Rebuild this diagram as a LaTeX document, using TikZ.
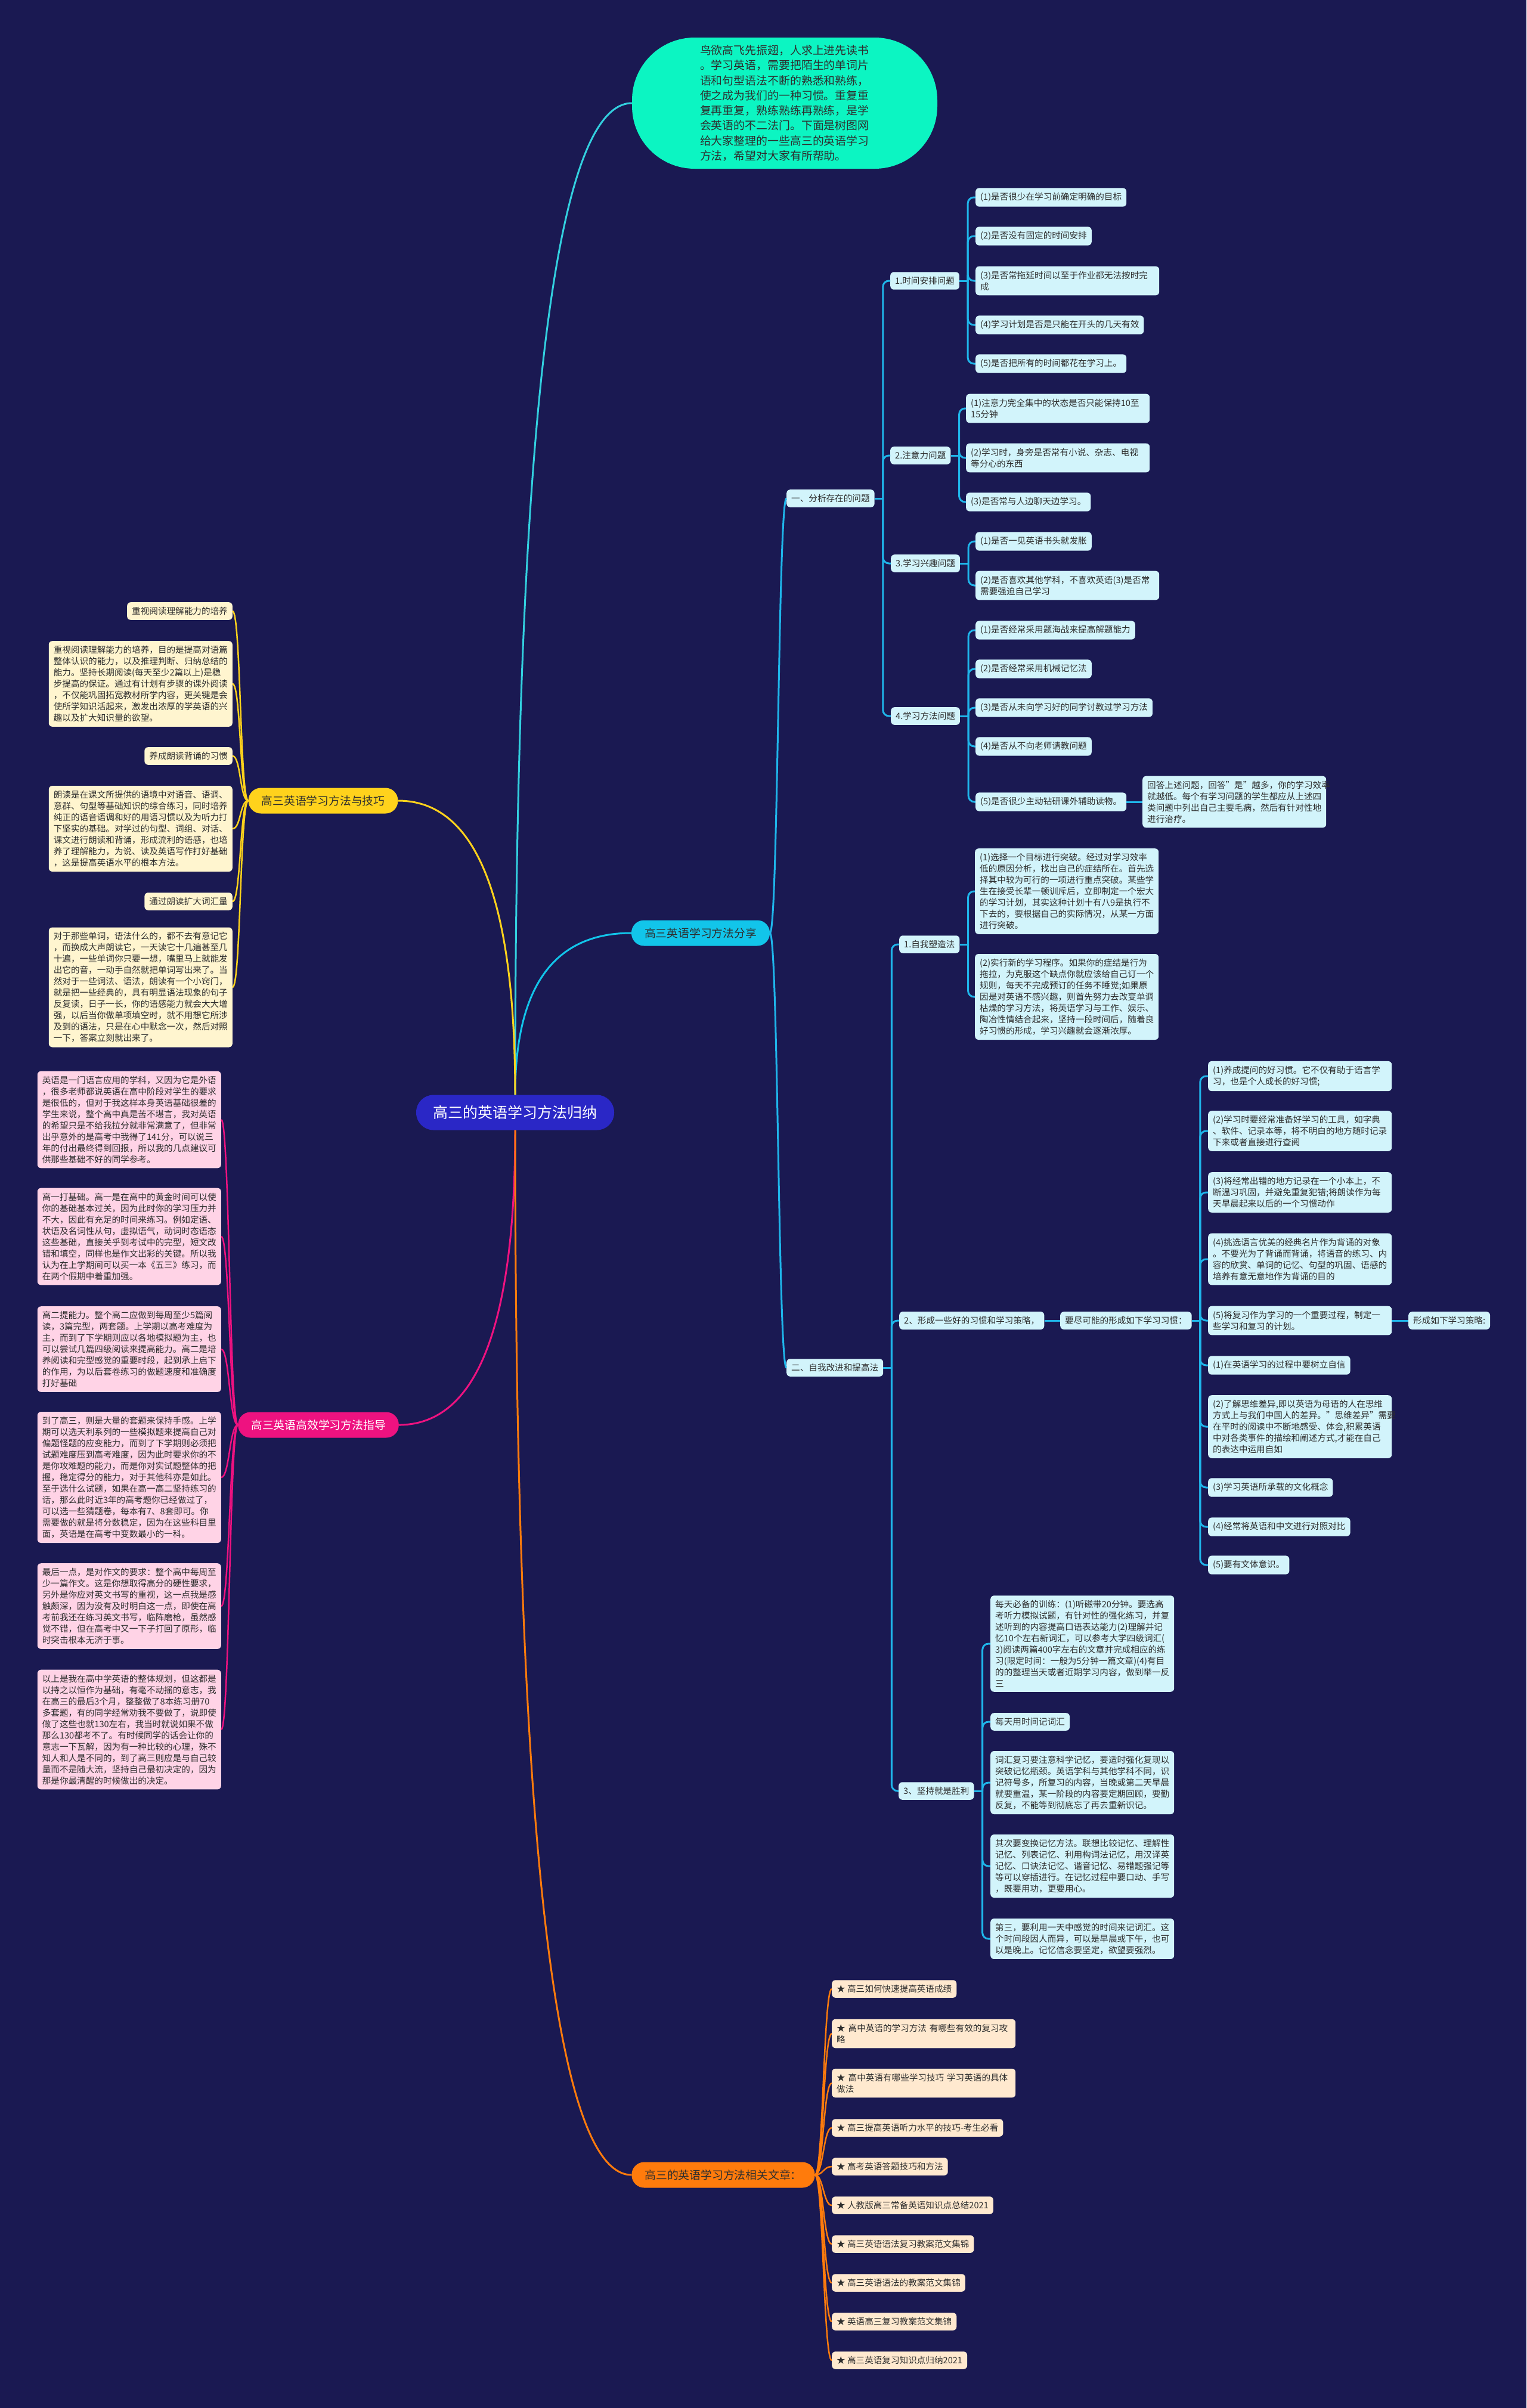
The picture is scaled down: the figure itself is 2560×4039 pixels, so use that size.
\documentclass[tikz,border=0pt]{standalone}
\usepackage{fontspec}
\setmainfont{Noto Sans CJK SC}
\usetikzlibrary{calc}
\definecolor{bgc}{HTML}{1A1952}
\definecolor{rootc}{HTML}{2A27C6}
\definecolor{introc}{HTML}{0CF5C2}
\definecolor{sharec}{HTML}{12C5EA}
\definecolor{skillc}{HTML}{FFD21C}
\definecolor{effc}{HTML}{EE1280}
\definecolor{artc}{HTML}{FF7B0C}
\definecolor{cyanbg}{HTML}{D2F4FB}
\definecolor{yelbg}{HTML}{FFF5CF}
\definecolor{pinkbg}{HTML}{FFD3E6}
\definecolor{orgbg}{HTML}{FFE9CF}
\definecolor{txt}{HTML}{2E2E2E}
\definecolor{cyline}{HTML}{1FB5EA}
\definecolor{introline}{HTML}{33D0DF}
\newcommand{\smalltxt}{\fontsize{14.6pt}{19pt}\selectfont}
\newcommand{\bigtxt}{\fontsize{18.8pt}{23pt}\selectfont}
\newcommand{\introtxt}{\fontsize{18.9pt}{25.3pt}\selectfont}
\newcommand{\roottxt}{\fontsize{25pt}{30pt}\selectfont}
\newcommand{\rootlink}[3]{\draw[#1] (#2) .. controls ($(#2)!0.667!(#2 |- #3)$) and ($(#3)!0.667!(#2 |- #3)$) .. (#3);}
\newcommand{\elb}[3]{\draw[#1] (#2.east) -- ++(14,0) coordinate (tmpj); \draw[#1, rounded corners=10pt] (tmpj) |- (#3.west);}
\newcommand{\sright}[3]{\draw[#1] (#2.east) .. controls +(14,0) and +(-14,0) .. (#3.west);}
\newcommand{\sleft}[3]{\draw[#1] (#2.west) .. controls +(-14,0) and +(14,0) .. (#3.east);}
\begin{document}
\begin{tikzpicture}[x=1pt,y=-1pt,
 box/.style={rounded corners=6pt, inner xsep=8pt, inner ysep=8pt, text=txt, font=\smalltxt, align=left},
 cyn/.style={box, fill=cyanbg},
 cynw/.style={cyn, text width=292pt},
 yel/.style={box, fill=yelbg},
 yelw/.style={yel, text width=292pt},
 pnk/.style={box, fill=pinkbg},
 pnkw/.style={pnk, text width=292pt},
 org/.style={box, fill=orgbg},
 orgw/.style={org, text width=292pt},
 mainn/.style={rounded corners=21pt, minimum height=43pt, inner xsep=22pt, inner ysep=4pt, font=\bigtxt, text=txt},
 cline/.style={draw=cyline, line width=3pt},
 yline/.style={draw=skillc, line width=2.5pt},
 pline/.style={draw=effc, line width=2.5pt},
 oline/.style={draw=artc, line width=2.5pt},
 mline/.style={line width=3pt}
]
\useasboundingbox (0,0) rectangle (2560,4039);
\fill[bgc] (0,0) rectangle (2560,4039);

% root and main branches
\node[fill=rootc, rounded corners=29pt, minimum width=332pt, minimum height=59pt, font=\roottxt, text=white] (root) at (864,1866) {高三的英语学习方法归纳};
\node[fill=introc, rounded corners=105pt, minimum width=512pt, minimum height=220pt, text width=284pt, align=left, font=\introtxt, text=txt] (intro) at (1316,173) {鸟欲高飞先振翅，人求上进先读书\\。学习英语，需要把陌生的单词片\\语和句型语法不断的熟悉和熟练，\\使之成为我们的一种习惯。重复重\\复再重复，熟练熟练再熟练，是学\\会英语的不二法门。下面是树图网\\给大家整理的一些高三的英语学习\\方法，希望对大家有所帮助。};
\node[mainn, fill=sharec] (share) at (1175,1565) {高三英语学习方法分享};
\node[mainn, fill=skillc] (skill) at (542,1343) {高三英语学习方法与技巧};
\node[mainn, fill=effc, text=white] (eff) at (534,2390) {高三英语高效学习方法指导};
\node[mainn, fill=artc] (art) at (1213,3648) {高三的英语学习方法相关文章：};

\rootlink{mline, draw=introline}{root.north}{intro.west}
\rootlink{mline, draw=sharec}{root.north}{share.west}
\rootlink{mline, draw=skillc}{root.north}{skill.east}
\rootlink{mline, draw=effc}{root.south}{eff.east}
\rootlink{mline, draw=artc}{root.south}{art.west}

% ---- share branch: part one
\node[cyn, anchor=west] (a) at (1319,836) {一、分析存在的问题};
\node[cyn, anchor=west] (a1) at (1493,471) {1.时间安排问题};
\node[cyn, anchor=west] (a11) at (1636,331) {(1)是否很少在学习前确定明确的目标};
\node[cyn, anchor=west] (a12) at (1636,396) {(2)是否没有固定的时间安排};
\node[cynw, anchor=west] (a13) at (1636,471) {(3)是否常拖延时间以至于作业都无法按时完\\成};
\node[cyn, anchor=west] (a14) at (1636,545) {(4)学习计划是否是只能在开头的几天有效};
\node[cyn, anchor=west] (a15) at (1636,610) {(5)是否把所有的时间都花在学习上。};
\node[cyn, anchor=west] (a2) at (1493,764) {2.注意力问题};
\node[cynw, anchor=west] (a21) at (1620,685) {(1)注意力完全集中的状态是否只能保持10至\\15分钟};
\node[cynw, anchor=west] (a22) at (1620,768) {(2)学习时，身旁是否常有小说、杂志、电视\\等分心的东西};
\node[cyn, anchor=west] (a23) at (1620,842) {(3)是否常与人边聊天边学习。};
\node[cyn, anchor=west] (a3) at (1494,945) {3.学习兴趣问题};
\node[cyn, anchor=west] (a31) at (1636,908) {(1)是否一见英语书头就发胀};
\node[cynw, anchor=west] (a32) at (1636,982) {(2)是否喜欢其他学科，不喜欢英语(3)是否常\\需要强迫自己学习};
\node[cyn, anchor=west] (a4) at (1494,1201) {4.学习方法问题};
\node[cyn, anchor=west] (a41) at (1636,1057) {(1)是否经常采用题海战来提高解题能力};
\node[cyn, anchor=west] (a42) at (1636,1122) {(2)是否经常采用机械记忆法};
\node[cyn, anchor=west] (a43) at (1636,1187) {(3)是否从未向学习好的同学讨教过学习方法};
\node[cyn, anchor=west] (a44) at (1636,1252) {(4)是否从不向老师请教问题};
\node[cyn, anchor=west] (a45) at (1636,1345) {(5)是否很少主动钻研课外辅助读物。};
\node[cynw, anchor=west] (a451) at (1916,1345) {回答上述问题，回答"是"越多，你的学习效率\\就越低。每个有学习问题的学生都应从上述四\\类问题中列出自己主要毛病，然后有针对性地\\进行治疗。};

% ---- share branch: part two
\node[cyn, anchor=west] (b) at (1319,2294) {二、自我改进和提高法};
\node[cyn, anchor=west] (b1) at (1508,1584) {1.自我塑造法};
\node[cynw, anchor=west] (b11) at (1635,1495) {(1)选择一个目标进行突破。经过对学习效率\\低的原因分析，找出自己的症结所在。首先选\\择其中较为可行的一项进行重点突破。某些学\\生在接受长辈一顿训斥后，立即制定一个宏大\\的学习计划，其实这种计划十有八9是执行不\\下去的，要根据自己的实际情况，从某一方面\\进行突破。};
\node[cynw, anchor=west] (b12) at (1635,1672) {(2)实行新的学习程序。如果你的症结是行为\\拖拉，为克服这个缺点你就应该给自己订一个\\规则，每天不完成预订的任务不睡觉;如果原\\因是对英语不感兴趣，则首先努力去改变单调\\枯燥的学习方法，将英语学习与工作、娱乐、\\陶冶性情结合起来，坚持一段时间后，随着良\\好习惯的形成，学习兴趣就会逐渐浓厚。};
\node[cyn, anchor=west] (b2) at (1508,2215) {2、形成一些好的习惯和学习策略，};
\node[cyn, anchor=west] (b21) at (1778,2215) {要尽可能的形成如下学习习惯：};
\node[cynw, anchor=west] (b2a) at (2026,1805) {(1)养成提问的好习惯。它不仅有助于语言学\\习，也是个人成长的好习惯;};
\node[cynw, anchor=west] (b2b) at (2026,1897) {(2)学习时要经常准备好学习的工具，如字典\\、软件、记录本等，将不明白的地方随时记录\\下来或者直接进行查阅};
\node[cynw, anchor=west] (b2c) at (2026,2000) {(3)将经常出错的地方记录在一个小本上，不\\断温习巩固，并避免重复犯错;将朗读作为每\\天早晨起来以后的一个习惯动作};
\node[cynw, anchor=west] (b2d) at (2026,2112) {(4)挑选语言优美的经典名片作为背诵的对象\\。不要光为了背诵而背诵，将语音的练习、内\\容的欣赏、单词的记忆、句型的巩固、语感的\\培养有意无意地作为背诵的目的};
\node[cynw, anchor=west] (b2e) at (2026,2215) {(5)将复习作为学习的一个重要过程，制定一\\些学习和复习的计划。};
\node[cyn, anchor=west] (b2e1) at (2362,2215) {形成如下学习策略:};
\node[cyn, anchor=west] (b2f) at (2026,2290) {(1)在英语学习的过程中要树立自信};
\node[cynw, anchor=west] (b2g) at (2026,2393) {(2)了解思维差异,即以英语为母语的人在思维\\方式上与我们中国人的差异。"思维差异"需要\\在平时的阅读中不断地感受、体会,积累英语\\中对各类事件的描绘和阐述方式,才能在自己\\的表达中运用自如};
\node[cyn, anchor=west] (b2h) at (2026,2495) {(3)学习英语所承载的文化概念};
\node[cyn, anchor=west] (b2i) at (2026,2561) {(4)经常将英语和中文进行对照对比};
\node[cyn, anchor=west] (b2j) at (2026,2625) {(5)要有文体意识。};
\node[cyn, anchor=west] (b3) at (1507,3004) {3、坚持就是胜利};
\node[cynw, anchor=west] (b31) at (1661,2757) {每天必备的训练：(1)听磁带20分钟。要选高\\考听力模拟试题，有针对性的强化练习，并复\\述听到的内容提高口语表达能力(2)理解并记\\忆10个左右新词汇，可以参考大学四级词汇(\\3)阅读两篇400字左右的文章并完成相应的练\\习(限定时间：一般为5分钟一篇文章)(4)有目\\的的整理当天或者近期学习内容，做到举一反\\三};
\node[cyn, anchor=west] (b32) at (1661,2888) {每天用时间记词汇};
\node[cynw, anchor=west] (b33) at (1661,2990) {词汇复习要注意科学记忆，要适时强化复现以\\突破记忆瓶颈。英语学科与其他学科不同，识\\记符号多，所复习的内容，当晚或第二天早晨\\就要重温，某一阶段的内容要定期回顾，要勤\\反复，不能等到彻底忘了再去重新识记。};
\node[cynw, anchor=west] (b34) at (1661,3130) {其次要变换记忆方法。联想比较记忆、理解性\\记忆、列表记忆、利用构词法记忆，用汉译英\\记忆、口诀法记忆、谐音记忆、易错题强记等\\等可以穿插进行。在记忆过程中要口动、手写\\，既要用功，更要用心。};
\node[cynw, anchor=west] (b35) at (1661,3252) {第三，要利用一天中感觉的时间来记词汇。这\\个时间段因人而异，可以是早晨或下午，也可\\以是晚上。记忆信念要坚定，欲望要强烈。};

% share connectors
\sright{cline}{share}{a}
\sright{cline}{share}{b}
\foreach \c in {a1,a2,a3,a4} {\elb{cline}{a}{\c}}
\foreach \c in {a11,a12,a13,a14,a15} {\elb{cline}{a1}{\c}}
\foreach \c in {a21,a22,a23} {\elb{cline}{a2}{\c}}
\foreach \c in {a31,a32} {\elb{cline}{a3}{\c}}
\foreach \c in {a41,a42,a43,a44,a45} {\elb{cline}{a4}{\c}}
\draw[cline] (a45.east) -- (a451.west);
\foreach \c in {b1,b2,b3} {\elb{cline}{b}{\c}}
\foreach \c in {b11,b12} {\elb{cline}{b1}{\c}}
\draw[cline] (b2.east) -- (b21.west);
\foreach \c in {b2a,b2b,b2c,b2d,b2e,b2f,b2g,b2h,b2i,b2j} {\elb{cline}{b21}{\c}}
\draw[cline] (b2e.east) -- (b2e1.west);
\foreach \c in {b31,b32,b33,b34,b35} {\elb{cline}{b3}{\c}}

% ---- skill branch (yellow)
\node[yel, anchor=east] (y1) at (390,1025) {重视阅读理解能力的培养};
\node[yelw, anchor=east] (y2) at (390,1147) {重视阅读理解能力的培养，目的是提高对语篇\\整体认识的能力，以及推理判断、归纳总结的\\能力。坚持长期阅读(每天至少2篇以上)是稳\\步提高的保证。通过有计划有步骤的课外阅读\\，不仅能巩固拓宽教材所学内容，更关键是会\\使所学知识活起来，激发出浓厚的学英语的兴\\趣以及扩大知识量的欲望。};
\node[yel, anchor=east] (y3) at (390,1268) {养成朗读背诵的习惯};
\node[yelw, anchor=east] (y4) at (390,1390) {朗读是在课文所提供的语境中对语音、语调、\\意群、句型等基础知识的综合练习，同时培养\\纯正的语音语调和好的用语习惯以及为听力打\\下坚实的基础。对学过的句型、词组、对话、\\课文进行朗读和背诵，形成流利的语感，也培\\养了理解能力，为说、读及英语写作打好基础\\，这是提高英语水平的根本方法。};
\node[yel, anchor=east] (y5) at (390,1512) {通过朗读扩大词汇量};
\node[yelw, anchor=east] (y6) at (390,1656) {对于那些单词，语法什么的，都不去有意记它\\，而换成大声朗读它，一天读它十几遍甚至几\\十遍，一些单词你只要一想，嘴里马上就能发\\出它的音，一动手自然就把单词写出来了。当\\然对于一些词法、语法，朗读有一个小窍门，\\就是把一些经典的，具有明显语法现象的句子\\反复读，日子一长，你的语感能力就会大大增\\强，以后当你做单项填空时，就不用想它所涉\\及到的语法，只是在心中默念一次，然后对照\\一下，答案立刻就出来了。};
\foreach \c in {y1,y2,y3,y4,y5,y6} {\sleft{yline}{skill}{\c}}

% ---- efficient branch (pink)
\node[pnkw, anchor=east] (p1) at (371,1878) {英语是一门语言应用的学科，又因为它是外语\\，很多老师都说英语在高中阶段对学生的要求\\是很低的，但对于我这样本身英语基础很差的\\学生来说，整个高中真是苦不堪言，我对英语\\的希望只是不给我拉分就非常满意了，但非常\\出乎意外的是高考中我得了141分，可以说三\\年的付出最终得到回报，所以我的几点建议可\\供那些基础不好的同学参考。};
\node[pnkw, anchor=east] (p2) at (371,2074) {高一打基础。高一是在高中的黄金时间可以使\\你的基础基本过关，因为此时你的学习压力并\\不大，因此有充足的时间来练习。例如定语、\\状语及名词性从句，虚拟语气，动词时态语态\\这些基础，直接关乎到考试中的完型，短文改\\错和填空，同样也是作文出彩的关键。所以我\\认为在上学期间可以买一本《五三》练习，而\\在两个假期中着重加强。};
\node[pnkw, anchor=east] (p3) at (371,2263) {高二提能力。整个高二应做到每周至少5篇阅\\读，3篇完型，两套题。上学期以高考难度为\\主，而到了下学期则应以各地模拟题为主，也\\可以尝试几篇四级阅读来提高能力。高二是培\\养阅读和完型感觉的重要时段，起到承上启下\\的作用，为以后套卷练习的做题速度和准确度\\打好基础};
\node[pnkw, anchor=east] (p4) at (371,2478) {到了高三，则是大量的套题来保持手感。上学\\期可以选天利系列的一些模拟题来提高自己对\\偏题怪题的应变能力，而到了下学期则必须把\\试题难度压到高考难度，因为此时要求你的不\\是你攻难题的能力，而是你对实试题整体的把\\握，稳定得分的能力，对于其他科亦是如此。\\至于选什么试题，如果在高一高二坚持练习的\\话，那么此时近3年的高考题你已经做过了，\\可以选一些猜题卷，每本有7、8套即可。你\\需要做的就是将分数稳定，因为在这些科目里\\面，英语是在高考中变数最小的一科。};
\node[pnkw, anchor=east] (p5) at (371,2694) {最后一点，是对作文的要求：整个高中每周至\\少一篇作文。这是你想取得高分的硬性要求，\\另外是你应对英文书写的重视，这一点我是感\\触颇深，因为没有及时明白这一点，即使在高\\考前我还在练习英文书写，临阵磨枪，虽然感\\觉不错，但在高考中又一下子打回了原形，临\\时突击根本无济于事。};
\node[pnkw, anchor=east] (p6) at (371,2901) {以上是我在高中学英语的整体规划，但这都是\\以持之以恒作为基础，有毫不动摇的意志，我\\在高三的最后3个月，整整做了8本练习册70\\多套题，有的同学经常劝我不要做了，说即使\\做了这些也就130左右，我当时就说如果不做\\那么130都考不了。有时候同学的话会让你的\\意志一下瓦解，因为有一种比较的心理，殊不\\知人和人是不同的，到了高三则应是与自己较\\量而不是随大流，坚持自己最初决定的，因为\\那是你最清醒的时候做出的决定。};
\foreach \c in {p1,p2,p3,p4,p5,p6} {\sleft{pline}{eff}{\c}}

% ---- articles branch (orange)
\node[org, anchor=west] (o1) at (1395,3336) {★ 高三如何快速提高英语成绩};
\node[orgw, anchor=west] (o2) at (1395,3411) {★ 高中英语的学习方法 有哪些有效的复习攻\\略};
\node[orgw, anchor=west] (o3) at (1395,3494) {★ 高中英语有哪些学习技巧 学习英语的具体\\做法};
\node[org, anchor=west] (o4) at (1395,3569) {★ 高三提高英语听力水平的技巧-考生必看};
\node[org, anchor=west] (o5) at (1395,3634) {★ 高考英语答题技巧和方法};
\node[org, anchor=west] (o6) at (1395,3699) {★ 人教版高三常备英语知识点总结2021};
\node[org, anchor=west] (o7) at (1395,3764) {★ 高三英语语法复习教案范文集锦};
\node[org, anchor=west] (o8) at (1395,3829) {★ 高三英语语法的教案范文集锦};
\node[org, anchor=west] (o9) at (1395,3894) {★ 英语高三复习教案范文集锦};
\node[org, anchor=west] (o10) at (1395,3959) {★ 高三英语复习知识点归纳2021};
\foreach \c in {o1,o2,o3,o4,o5,o6,o7,o8,o9,o10} {\sright{oline}{art}{\c}}
\end{tikzpicture}
\end{document}
